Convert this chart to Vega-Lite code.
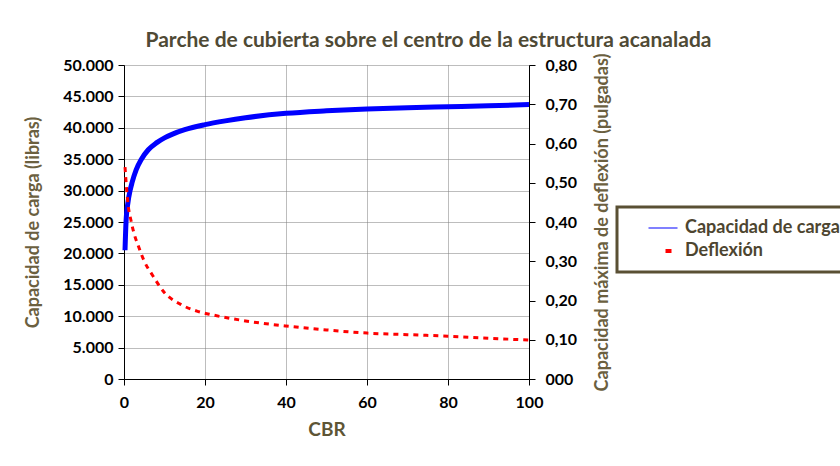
{
  "$schema": "https://vega.github.io/schema/vega-lite/v6.json",
  "width": 405,
  "height": 314,
  "autosize": {"type": "none"},
  "padding": {"left": 124, "top": 65, "right": 311, "bottom": 87},
  "background": "white",
  "title": {
    "text": "Parche de cubierta sobre el centro de la estructura acanalada",
    "font": "Lato", "fontSize": 21, "fontWeight": "bold", "color": "#4f4a35",
    "anchor": "middle", "frame": "group", "dx": 102, "offset": 2
  },
  "config": {"view": {"stroke": null}, "font": "Lato"},
  "layer": [
    {
      "data": {"values": [
        {"cbr": 0.25, "carga": 20500, "serie": "Capacidad de carga"},
        {"cbr": 0.5, "carga": 25000, "serie": "Capacidad de carga"},
        {"cbr": 1, "carga": 28200, "serie": "Capacidad de carga"},
        {"cbr": 1.5, "carga": 30000, "serie": "Capacidad de carga"},
        {"cbr": 2, "carga": 31300, "serie": "Capacidad de carga"},
        {"cbr": 3, "carga": 33300, "serie": "Capacidad de carga"},
        {"cbr": 4.3, "carga": 35000, "serie": "Capacidad de carga"},
        {"cbr": 6, "carga": 36500, "serie": "Capacidad de carga"},
        {"cbr": 8, "carga": 37600, "serie": "Capacidad de carga"},
        {"cbr": 10, "carga": 38400, "serie": "Capacidad de carga"},
        {"cbr": 12, "carga": 39000, "serie": "Capacidad de carga"},
        {"cbr": 15, "carga": 39700, "serie": "Capacidad de carga"},
        {"cbr": 20, "carga": 40500, "serie": "Capacidad de carga"},
        {"cbr": 25, "carga": 41100, "serie": "Capacidad de carga"},
        {"cbr": 30, "carga": 41600, "serie": "Capacidad de carga"},
        {"cbr": 40, "carga": 42300, "serie": "Capacidad de carga"},
        {"cbr": 50, "carga": 42700, "serie": "Capacidad de carga"},
        {"cbr": 60, "carga": 43000, "serie": "Capacidad de carga"},
        {"cbr": 70, "carga": 43200, "serie": "Capacidad de carga"},
        {"cbr": 80, "carga": 43350, "serie": "Capacidad de carga"},
        {"cbr": 90, "carga": 43500, "serie": "Capacidad de carga"},
        {"cbr": 100, "carga": 43700, "serie": "Capacidad de carga"}
      ]},
      "mark": {"type": "line", "interpolate": "monotone", "strokeWidth": 5, "strokeCap": "butt"},
      "encoding": {
        "x": {
          "field": "cbr", "type": "quantitative",
          "scale": {"domain": [0, 100]},
          "axis": {
            "values": [0, 20, 40, 60, 80, 100],
            "title": "CBR", "titleColor": "#5e5535", "titleFontSize": 19, "titleFontWeight": "bold", "titleFont": "Lato", "titlePadding": 10,
            "labelFont": "Lato", "labelFontSize": 16, "labelFontWeight": "bold", "labelColor": "#000000", "labelPadding": 9,
            "tickSize": 6, "tickColor": "#000000", "domainColor": "#000000",
            "grid": true, "gridColor": "#7a7a7a", "gridDash": [1, 1], "labelFlush": false
          }
        },
        "y": {
          "field": "carga", "type": "quantitative",
          "scale": {"domain": [0, 50000]},
          "axis": {
            "orient": "left",
            "values": [0, 5000, 10000, 15000, 20000, 25000, 30000, 35000, 40000, 45000, 50000],
            "labelExpr": "replace(format(datum.value, ','), ',', '.')",
            "title": "Capacidad de carga (libras)", "titleColor": "#6b6040", "titleFontSize": 18, "titleFontWeight": "bold", "titleFont": "Lato", "titlePadding": 20,
            "labelFont": "Lato", "labelFontSize": 16, "labelFontWeight": "bold", "labelColor": "#000000", "labelPadding": 5,
            "tickSize": 6, "tickColor": "#000000", "domainColor": "#000000",
            "grid": true, "gridColor": "#7a7a7a", "gridDash": [1, 1], "labelFlush": false
          }
        },
        "color": {
          "field": "serie", "type": "nominal",
          "scale": {"domain": ["Capacidad de carga", "Deflexión"], "range": ["#0000ff", "#ff0000"]},
          "legend": {
            "orient": "none", "legendX": 493, "legendY": 142, "title": null,
            "symbolType": "stroke", "symbolSize": 841, "symbolStrokeWidth": 2,
            "labelFont": "Lato", "labelFontSize": 18, "labelFontWeight": "bold", "labelColor": "#4d4530",
            "padding": 12, "rowPadding": 5, "symbolOffset": 25, "labelOffset": 13,
            "fillColor": "#ffffff", "strokeColor": "#5a5034",
            "encode": {
              "legend": {"update": {"strokeWidth": {"value": 3}}},
              "symbols": {"update": {
                "strokeDash": {"signal": "datum.value == 'Deflexión' ? [6, 40] : [1, 0]"},
                "strokeDashOffset": {"signal": "datum.value == 'Deflexión' ? -17 : 0"},
                "strokeWidth": {"signal": "datum.value == 'Deflexión' ? 4 : 2"},
                "strokeOpacity": {"signal": "datum.value == 'Deflexión' ? 1 : 0.5"}
              }}
            }
          }
        }
      }
    },
    {
      "data": {"values": [
        {"cbr": 0.25, "defl": 0.54, "serie": "Deflexión"},
        {"cbr": 0.6, "defl": 0.49, "serie": "Deflexión"},
        {"cbr": 1, "defl": 0.445, "serie": "Deflexión"},
        {"cbr": 1.7, "defl": 0.405, "serie": "Deflexión"},
        {"cbr": 2.5, "defl": 0.37, "serie": "Deflexión"},
        {"cbr": 3.5, "defl": 0.34, "serie": "Deflexión"},
        {"cbr": 5, "defl": 0.30, "serie": "Deflexión"},
        {"cbr": 7, "defl": 0.265, "serie": "Deflexión"},
        {"cbr": 10, "defl": 0.22, "serie": "Deflexión"},
        {"cbr": 14, "defl": 0.19, "serie": "Deflexión"},
        {"cbr": 18, "defl": 0.173, "serie": "Deflexión"},
        {"cbr": 22, "defl": 0.163, "serie": "Deflexión"},
        {"cbr": 30, "defl": 0.148, "serie": "Deflexión"},
        {"cbr": 40, "defl": 0.135, "serie": "Deflexión"},
        {"cbr": 50, "defl": 0.125, "serie": "Deflexión"},
        {"cbr": 60, "defl": 0.117, "serie": "Deflexión"},
        {"cbr": 70, "defl": 0.113, "serie": "Deflexión"},
        {"cbr": 80, "defl": 0.109, "serie": "Deflexión"},
        {"cbr": 90, "defl": 0.104, "serie": "Deflexión"},
        {"cbr": 100, "defl": 0.099, "serie": "Deflexión"}
      ]},
      "mark": {"type": "line", "interpolate": "monotone", "strokeWidth": 3, "strokeDash": [5, 5]},
      "encoding": {
        "x": {"field": "cbr", "type": "quantitative", "scale": {"domain": [0, 100]}},
        "y": {
          "field": "defl", "type": "quantitative",
          "scale": {"domain": [0, 0.8]},
          "axis": {
            "orient": "right",
            "values": [0, 0.1, 0.2, 0.3, 0.4, 0.5, 0.6, 0.7, 0.8],
            "labelExpr": "datum.value == 0 ? '000' : replace(format(datum.value, '.2f'), '.', ',')",
            "title": "Capacidad máxima de deflexión (pulgadas)", "titleColor": "#6b6040", "titleFontSize": 18, "titleFontWeight": "bold", "titleFont": "Lato", "titlePadding": 17, "titleAngle": 270, "titleBaseline": "top",
            "labelFont": "Lato", "labelFontSize": 16, "labelFontWeight": "bold", "labelColor": "#000000", "labelPadding": 10,
            "tickSize": 6, "tickColor": "#000000", "domainColor": "#000000",
            "grid": false, "labelFlush": false
          }
        },
        "color": {"field": "serie", "type": "nominal"}
      }
    }
  ],
  "resolve": {"scale": {"y": "independent"}}
}
